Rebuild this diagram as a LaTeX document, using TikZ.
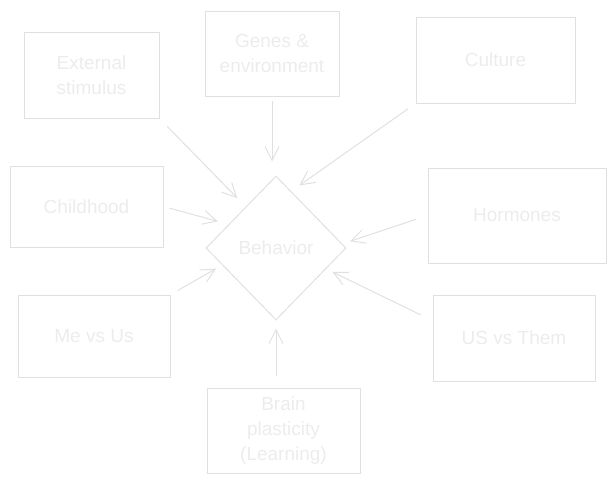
\documentclass[tikz,border=0pt]{standalone}
\usepackage{fontspec}
\setmainfont{Liberation Sans}
\usetikzlibrary{shapes.geometric,arrows.meta,calc}
\definecolor{sketchline}{RGB}{224,224,224}
\definecolor{sketchtext}{RGB}{236,236,236}
\begin{document}
\begin{tikzpicture}[x=1pt,y=-1pt,
  box/.style={draw=sketchline, line width=1pt, rectangle, inner sep=0pt, align=center,
    text=sketchtext, font=\fontsize{19}{25}\selectfont},
  arr/.style={draw=sketchline, line width=1pt, -{Straight Barb[length=14pt,width=14pt]}}]
\useasboundingbox (0,0) rectangle (616,483);
\node[box, minimum width=135pt, minimum height=86pt] (ext) at (91.5,75) {External\\stimulus};
\node[box, minimum width=134pt, minimum height=85pt] (gen) at (272,53.5) {Genes \&\\environment};
\node[box, minimum width=159pt, minimum height=86pt] (cul) at (495.5,60) {Culture};
\node[box, minimum width=153pt, minimum height=81pt] (chi) at (86.5,206.5) {Childhood};
\node[box, minimum width=178pt, minimum height=95pt] (hor) at (517,215.5) {Hormones};
\node[box, minimum width=152pt, minimum height=82pt] (meu) at (94,336) {Me vs Us};
\node[box, minimum width=162pt, minimum height=86pt] (ust) at (514,338) {US vs Them};
\node[box, minimum width=153pt, minimum height=85pt] (bra) at (283.5,430.5) {Brain\\plasticity\\(Learning)};
\node[box, diamond, aspect=1, minimum width=140pt, minimum height=144pt] (beh) at (276,248) {Behavior};

\draw[arr, shorten <=11pt, shorten >=12pt] (ext.south east) -- ($(beh.north)!0.43!(beh.west)$);
\draw[arr, shorten <=4pt, shorten >=14pt] (gen.south) -- (gen.south |- beh.north);
\draw[arr, shorten <=9pt, shorten >=10pt] (cul.south west) -- ($(beh.north)!0.216!(beh.east)$);
\draw[arr, shorten <=6pt, shorten >=11pt] (chi.east) -- ($(beh.north)!0.673!(beh.west)$);
\draw[arr, shorten <=12pt, shorten >=8pt] (hor.west) -- ($(beh.east)!0.058!(beh.north)$);
\draw[arr, shorten <=8pt, shorten >=7pt] (meu.north east) -- ($(beh.west)!0.237!(beh.south)$);
\draw[arr, shorten <=13pt, shorten >=7pt] ($(ust.west)!0.4!(ust.north west)$) -- ($(beh.east)!0.288!(beh.south)$);
\draw[arr, shorten <=12pt, shorten >=8pt] (bra.north -| beh.south) -- (beh.south);
\end{tikzpicture}
\end{document}
